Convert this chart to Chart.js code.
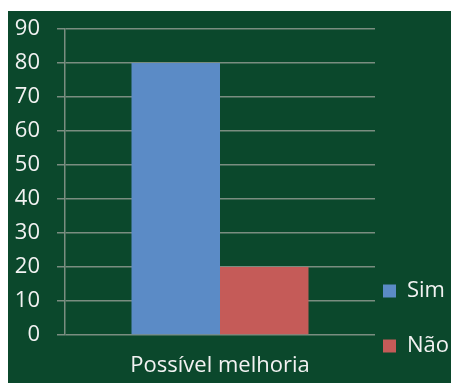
<!DOCTYPE html>
<html lang="pt">
<head>
    <meta charset="UTF-8">
    <title>Possível melhoria</title>
    <style>
        body { margin: 0; background: #ffffff; }
        #wrap {
            position: absolute;
            left: 8px;
            top: 11px;
            width: 443px;
            height: 372px;
            background: #0b482c;
        }
    </style>
</head>
<body>
    <div id="wrap">
        <canvas id="myChart"></canvas>
    </div>

    <script src="https://cdn.jsdelivr.net/npm/chart.js"></script>
    <script>
        const categories = ['Possível melhoria'];
        const simValues = [80];
        const naoValues = [20];
        const yTicks = [0, 10, 20, 30, 40, 50, 60, 70, 80, 90];

        const gridColor = '#7a8d80';
        const textColor = '#f2f2f2';
        const fontFamily = '"Open Sans", Lato, sans-serif';
        const fontWeight = 500;

        const ctx = document.getElementById('myChart');

        new Chart(ctx, {
            type: 'bar',
            data: {
                labels: categories,
                datasets: [
                    {
                        label: 'Sim',
                        data: simValues,
                        backgroundColor: '#5b8bc6',
                    },
                    {
                        label: 'Não',
                        data: naoValues,
                        backgroundColor: '#c55b58',
                    },
                ],
            },
            options: {
                responsive: true,
                maintainAspectRatio: false,
                animation: false,
                categoryPercentage: 0.571,
                barPercentage: 1,
                layout: {
                    padding: { left: 0, top: 0, right: 0, bottom: -7 },
                },
                scales: {
                    x: {
                        grid: { display: false, drawTicks: false },
                        border: { display: false },
                        ticks: {
                            color: textColor,
                            padding: 18,
                            font: { family: fontFamily, size: 22, weight: fontWeight },
                        },
                        afterFit: (scale) => {
                            scale.height = 55;
                            scale.paddingLeft = 0;
                            scale.paddingRight = 0;
                        },
                    },
                    y: {
                        min: 0,
                        max: 90,
                        afterBuildTicks: (axis) => {
                            axis.ticks = yTicks.map(v => ({ value: v }));
                        },
                        grid: {
                            color: gridColor,
                            lineWidth: 1.5,
                            tickLength: 8,
                        },
                        border: { color: gridColor, width: 1.5 },
                        ticks: {
                            color: textColor,
                            padding: 17,
                            font: { family: fontFamily, size: 22, weight: fontWeight },
                        },
                        afterFit: (scale) => {
                            scale.width = 57;
                            scale.paddingTop = 18;
                            scale.paddingBottom = 13;
                        },
                    },
                },
                plugins: {
                    tooltip: { enabled: false },
                    legend: {
                        position: 'right',
                        align: 'end',
                        maxWidth: 76,
                        labels: {
                            color: textColor,
                            boxWidth: 13,
                            boxHeight: 13,
                            padding: 8,
                            font: { family: fontFamily, size: 22, weight: fontWeight, lineHeight: '47px' },
                            // one-line arrays so each row uses the font lineHeight
                            generateLabels: (chart) => {
                                const items = Chart.defaults.plugins.legend.labels.generateLabels(chart);
                                items.forEach(it => { it.text = [it.text]; });
                                return items;
                            },
                        },
                    },
                },
            },
        });
    </script>
</body>
</html>
